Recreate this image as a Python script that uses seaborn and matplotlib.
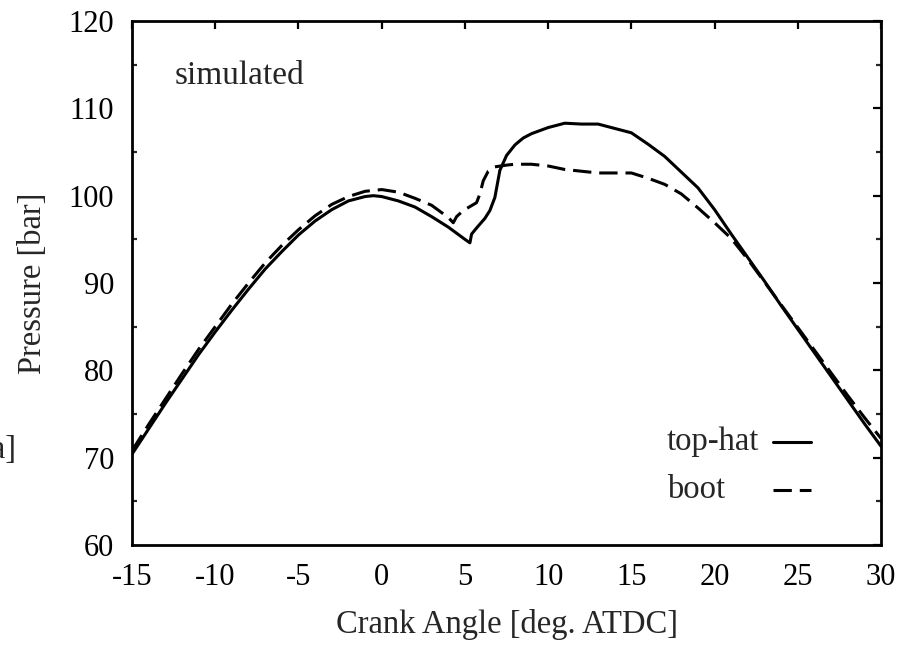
import matplotlib
matplotlib.use("Agg")
import matplotlib.pyplot as plt
from matplotlib.ticker import MultipleLocator
import numpy as np
import pandas as pd
import seaborn as sns

# ---- data ----
tophat_angle = [-15, -14, -13, -12, -11, -10, -9, -8, -7, -6, -5, -4, -3, -2, -1, -0.5, 0,
                1, 2, 3, 4, 5, 5.3, 5.4, 5.7, 6.2, 6.5, 6.8, 7.1, 7.5, 8, 8.5, 9, 10, 11,
                12, 13, 14, 15, 16, 17, 18, 19, 20, 21, 22, 23, 24, 25, 26, 27, 28, 29, 30]
tophat_pressure = [70.4, 73.3, 76.2, 79.0, 81.8, 84.4, 86.9, 89.3, 91.6, 93.6, 95.5, 97.1, 98.4,
                   99.4, 99.9, 100.0, 99.9, 99.4, 98.7, 97.6, 96.4, 95.0, 94.6, 95.6, 96.3, 97.4,
                   98.3, 99.8, 102.9, 104.6, 105.8, 106.6, 107.1, 107.8, 108.3, 108.2, 108.2,
                   107.7, 107.2, 105.9, 104.5, 102.7, 100.9, 98.4, 95.6, 92.9, 90.2, 87.4, 84.7,
                   82.0, 79.3, 76.6, 73.9, 71.3]

boot_angle = [-15, -14, -13, -12, -11, -10, -9, -8, -7, -6, -5, -4, -3, -2, -1, 0, 1, 2, 3, 4,
              4.3, 4.5, 4.9, 5.7, 5.9, 6.1, 6.4, 6.8, 7.5, 8, 9, 10, 11, 12, 13, 14, 15, 16, 17,
              18, 19, 20, 21, 22, 23, 24, 25, 26, 27, 28, 29, 30]
boot_pressure = [70.8, 73.8, 76.7, 79.6, 82.4, 85.0, 87.6, 90.0, 92.3, 94.3, 96.1, 97.7, 99.0,
                 99.9, 100.5, 100.7, 100.4, 99.7, 98.9, 97.5, 96.9, 97.6, 98.3, 99.2, 100.2,
                 101.7, 102.8, 103.3, 103.5, 103.6, 103.6, 103.4, 103.0, 102.8, 102.6, 102.6,
                 102.6, 102.0, 101.3, 100.2, 98.6, 96.9, 95.1, 92.7, 90.1, 87.5, 84.9, 82.3,
                 79.7, 77.1, 74.6, 72.2]

series_labels = ["top-hat", "boot"]
x_ticks = [-15, -10, -5, 0, 5, 10, 15, 20, 25, 30]
y_ticks = [60, 70, 80, 90, 100, 110, 120]

df = pd.concat([
    pd.DataFrame({"angle": tophat_angle, "pressure": tophat_pressure, "case": series_labels[0]}),
    pd.DataFrame({"angle": boot_angle, "pressure": boot_pressure, "case": series_labels[1]}),
], ignore_index=True)

# ---- style ----
sns.set_theme(style="white")
plt.rcParams["font.family"] = ["Liberation Serif", "DejaVu Serif"]
FS_TICK = 22
FS_TEXT = 23.5
LW = 2.2

fig = plt.figure(figsize=(9.13, 6.47), dpi=100)
ax = fig.add_axes([0.1446, 0.1577, 0.8204, 0.8098])

dash_styles = {"top-hat": "", "boot": (6, 2.6)}
sns.lineplot(data=df, x="angle", y="pressure", hue="case", style="case",
             palette={"top-hat": "black", "boot": "black"}, dashes=dash_styles,
             linewidth=LW, sort=False, estimator=None, legend=False, ax=ax)

ax.set_xlim(-15, 30)
ax.set_ylim(60, 120)
ax.set_xticks(x_ticks)
ax.set_xticklabels([str(t) for t in x_ticks])
ax.set_yticks(y_ticks)
ax.set_yticklabels([str(t) for t in y_ticks])
ax.yaxis.set_minor_locator(MultipleLocator(5))

for s in ax.spines.values():
    s.set_visible(True)
    s.set_linewidth(2.0)
    s.set_color("black")

ax.tick_params(which="major", direction="in", length=6, width=1.6, top=True, right=True,
               labelsize=FS_TICK, pad=13, colors="black")
ax.tick_params(which="minor", direction="in", length=3.8, width=1.6, left=True, right=True,
               bottom=False, top=False)

ax.set_xlabel("Crank Angle [deg. ATDC]", fontsize=FS_TEXT, labelpad=12)
ax.set_ylabel("Pressure [bar]", fontsize=FS_TEXT, labelpad=15)

ax.text(0.057, 0.895, "simulated", transform=ax.transAxes, fontsize=24, ha="left", va="center")

# gnuplot-style key: label then sample line
key_y = [0.197, 0.105]
key_styles = ["-", (0, (6, 2.6))]
for lab, yy, ls in zip(series_labels, key_y, key_styles):
    ax.text(0.714, yy, lab, transform=ax.transAxes, fontsize=FS_TEXT, ha="left", va="center")
    ax.plot([0.856, 0.907], [yy, yy], transform=ax.transAxes, color="black",
            linewidth=LW, linestyle=ls)

# cut-off fragment of a neighbouring panel's label
fig.text(17 / 913, 1 - 450 / 647, "[MPa]", fontsize=FS_TEXT, ha="right", va="center")

fig.savefig("out.png", dpi=100)
